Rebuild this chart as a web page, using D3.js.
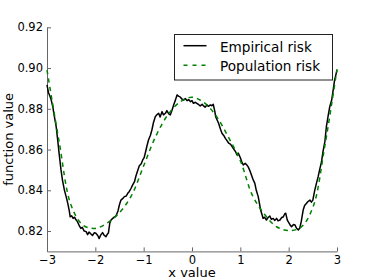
<!DOCTYPE html>
<html lang="en">
<head>
<meta charset="utf-8"/>
<title>Risk curves</title>
<script src="https://d3js.org/d3.v7.min.js"></script>
<style>
  body { margin: 0; background: #fff; }
  svg text { font-family: "DejaVu Sans", sans-serif; fill: #000; }
  .axis text { font-size: 11.5px; }
  .label { font-size: 13px; }
  .legend text { font-size: 13.6px; }
  .axis path, .axis line { stroke: #666; }
</style>
</head>
<body>
<svg id="chart" width="374" height="280"></svg>
<script>
// population risk (smooth curve)
var popX = [-3, -2.75, -2.5, -2.25, -2, -1.75, -1.5, -1.25, -1, -0.75, -0.5, -0.25, 0,
            0.25, 0.5, 0.75, 1, 1.25, 1.5, 1.75, 2, 2.25, 2.5, 2.75, 3];
var popY = [0.899, 0.864, 0.8325, 0.8228, 0.8213, 0.824, 0.829, 0.8375, 0.852, 0.8665, 0.877, 0.8833, 0.8857,
            0.883, 0.8765, 0.8662, 0.8545, 0.8375, 0.8282, 0.8221, 0.8202, 0.8218, 0.8315, 0.862, 0.8995];

// empirical risk (noisy curve)
var empX = [-3, -2.97, -2.95, -2.92, -2.88, -2.85, -2.81, -2.78, -2.75, -2.71, -2.68, -2.64, -2.6, -2.57, -2.54, -2.52,
  -2.49, -2.46, -2.43, -2.4, -2.37, -2.33, -2.3, -2.27, -2.23, -2.19, -2.16, -2.13, -2.09, -2.06, -2.02, -1.99,
  -1.95, -1.92, -1.89, -1.85, -1.82, -1.78, -1.75, -1.73, -1.7, -1.675, -1.64, -1.61, -1.57, -1.53, -1.5, -1.47,
  -1.43, -1.4, -1.36, -1.33, -1.3, -1.26, -1.23, -1.19, -1.16, -1.12, -1.09, -1.05, -1.02, -0.99, -0.96, -0.93,
  -0.9, -0.86, -0.83, -0.8, -0.76, -0.73, -0.69, -0.66, -0.62, -0.59, -0.55, -0.52, -0.48, -0.45, -0.41, -0.38,
  -0.34, -0.31, -0.28, -0.24, -0.21, -0.17, -0.14, -0.1, -0.07, -0.03, 0, 0.03, 0.07, 0.1, 0.14, 0.17,
  0.21, 0.24, 0.27, 0.31, 0.34, 0.38, 0.41, 0.44, 0.47, 0.49, 0.52, 0.55, 0.59, 0.62, 0.66, 0.69,
  0.72, 0.76, 0.8, 0.83, 0.87, 0.9, 0.93, 0.96, 1, 1.03, 1.06, 1.1, 1.13, 1.16, 1.2, 1.23,
  1.26, 1.3, 1.33, 1.37, 1.4, 1.42, 1.45, 1.47, 1.5, 1.54, 1.57, 1.61, 1.64, 1.68, 1.71, 1.75,
  1.78, 1.82, 1.85, 1.89, 1.92, 1.94, 1.97, 1.99, 2.03, 2.06, 2.1, 2.13, 2.16, 2.2, 2.23, 2.26,
  2.3, 2.33, 2.37, 2.4, 2.44, 2.47, 2.5, 2.54, 2.57, 2.61, 2.64, 2.68, 2.71, 2.75, 2.78, 2.82,
  2.85, 2.89, 2.92, 2.95, 2.98, 3];
var empY = [0.8917, 0.888, 0.8868, 0.885, 0.881, 0.8765, 0.8712, 0.865, 0.8582, 0.85, 0.845, 0.8401, 0.8365, 0.8336, 0.83, 0.827,
  0.8275, 0.8262, 0.8268, 0.8255, 0.8246, 0.8225, 0.8213, 0.8218, 0.82, 0.8197, 0.8182, 0.8195, 0.8185, 0.8178, 0.8192, 0.8189,
  0.8178, 0.8163, 0.818, 0.8192, 0.818, 0.8172, 0.8185, 0.819, 0.824, 0.8254, 0.8262, 0.8268, 0.8275, 0.83, 0.833, 0.8352,
  0.836, 0.8369, 0.8372, 0.8385, 0.8393, 0.841, 0.8425, 0.8442, 0.847, 0.85, 0.852, 0.853, 0.8549, 0.856, 0.8589, 0.862,
  0.8647, 0.867, 0.8696, 0.873, 0.8761, 0.877, 0.8778, 0.876, 0.8786, 0.877, 0.8778, 0.8791, 0.8775, 0.877, 0.8795, 0.8819,
  0.8845, 0.8868, 0.8862, 0.8857, 0.8848, 0.8843, 0.885, 0.884, 0.8845, 0.8835, 0.884, 0.8827, 0.8832, 0.8827, 0.882, 0.8814,
  0.8822, 0.8814, 0.8808, 0.8819, 0.8812, 0.8819, 0.8815, 0.8822, 0.879, 0.8761, 0.8745, 0.8729, 0.87, 0.868, 0.8668, 0.8655,
  0.8645, 0.8631, 0.8625, 0.8614, 0.86, 0.859, 0.8573, 0.8582, 0.856, 0.854, 0.8524, 0.8532, 0.8525, 0.8516, 0.8495, 0.8475,
  0.8455, 0.8434, 0.84, 0.8369, 0.833, 0.8303, 0.828, 0.8262, 0.8268, 0.8254, 0.8265, 0.8274, 0.8258, 0.8262, 0.8252, 0.8262,
  0.825, 0.8254, 0.8265, 0.827, 0.8285, 0.8287, 0.8255, 0.8246, 0.823, 0.8221, 0.8232, 0.823, 0.8215, 0.8205, 0.8215, 0.8246,
  0.8303, 0.8325, 0.8336, 0.8345, 0.8352, 0.8342, 0.8352, 0.8401, 0.843, 0.8467, 0.85, 0.854, 0.859, 0.864, 0.8712, 0.877,
  0.881, 0.8843, 0.889, 0.8941, 0.897, 0.899];

var xTicks = [-3, -2, -1, 0, 1, 2, 3];
var yTicks = [0.82, 0.84, 0.86, 0.88, 0.90, 0.92];
var seriesNames = ["Empirical risk", "Population risk"];

var svg = d3.select("#chart");
var plotLeft = 47, plotRight = 337, plotTop = 27.3, plotBottom = 251.4;

var x = d3.scaleLinear().domain([-3, 3]).range([plotLeft, plotRight]);
var y = d3.scaleLinear().domain([0.81, 0.92]).range([plotBottom, plotTop]);

// axes (ticks point inward)
var gx = svg.append("g")
    .attr("class", "axis")
    .attr("transform", "translate(0," + plotBottom + ")")
    .call(d3.axisBottom(x).tickValues(xTicks).tickSizeInner(-4).tickSizeOuter(0).tickPadding(4)
      .tickFormat(function(d) { return d3.format("")(d).replace("-", "\u2212"); }));
var gy = svg.append("g")
    .attr("class", "axis")
    .attr("transform", "translate(" + plotLeft + ",0)")
    .call(d3.axisLeft(y).tickValues(yTicks).tickSizeInner(-4).tickSizeOuter(0).tickPadding(4)
      .tickFormat(d3.format(".2f")));
svg.selectAll(".axis").attr("font-size", null).attr("font-family", null);
svg.selectAll(".axis .domain").attr("stroke", "#666");

// axis labels
svg.append("text")
    .attr("class", "label")
    .attr("x", x(0))
    .attr("y", 277)
    .attr("text-anchor", "middle")
    .text("x value");
svg.append("text")
    .attr("class", "label")
    .attr("transform", "translate(13," + (plotTop + plotBottom) / 2 + ") rotate(-90)")
    .attr("text-anchor", "middle")
    .text("function value");

var line = d3.line()
    .x(function(d) { return x(d[0]); })
    .y(function(d) { return y(d[1]); });

svg.append("path")
    .datum(d3.zip(empX, empY))
    .attr("fill", "none")
    .attr("stroke", "#000")
    .attr("stroke-width", 1.5)
    .attr("stroke-linejoin", "round")
    .attr("d", line);

svg.append("path")
    .datum(d3.zip(popX, popY))
    .attr("fill", "none")
    .attr("stroke", "#008000")
    .attr("stroke-width", 1.5)
    .attr("stroke-dasharray", "4.5,4")
    .attr("d", line.curve(d3.curveCatmullRom));

// legend
var legend = svg.append("g").attr("class", "legend");
legend.append("rect")
    .attr("x", 174.5).attr("y", 34.5)
    .attr("width", 158).attr("height", 45.5)
    .attr("fill", "#fff").attr("stroke", "#222");
var items = legend.selectAll("g.item")
    .data(seriesNames)
    .enter().append("g")
    .attr("class", "item")
    .attr("transform", function(d, i) { return "translate(0," + (45.7 + i * 19.5) + ")"; });
items.append("line")
    .attr("x1", 183.5).attr("x2", 206.5)
    .attr("stroke", function(d, i) { return i ? "#008000" : "#000"; })
    .attr("stroke-width", 1.5)
    .attr("stroke-dasharray", function(d, i) { return i ? "4,5" : null; });
items.append("text")
    .attr("x", 220)
    .attr("y", 6)
    .text(function(d) { return d; });
</script>
</body>
</html>
